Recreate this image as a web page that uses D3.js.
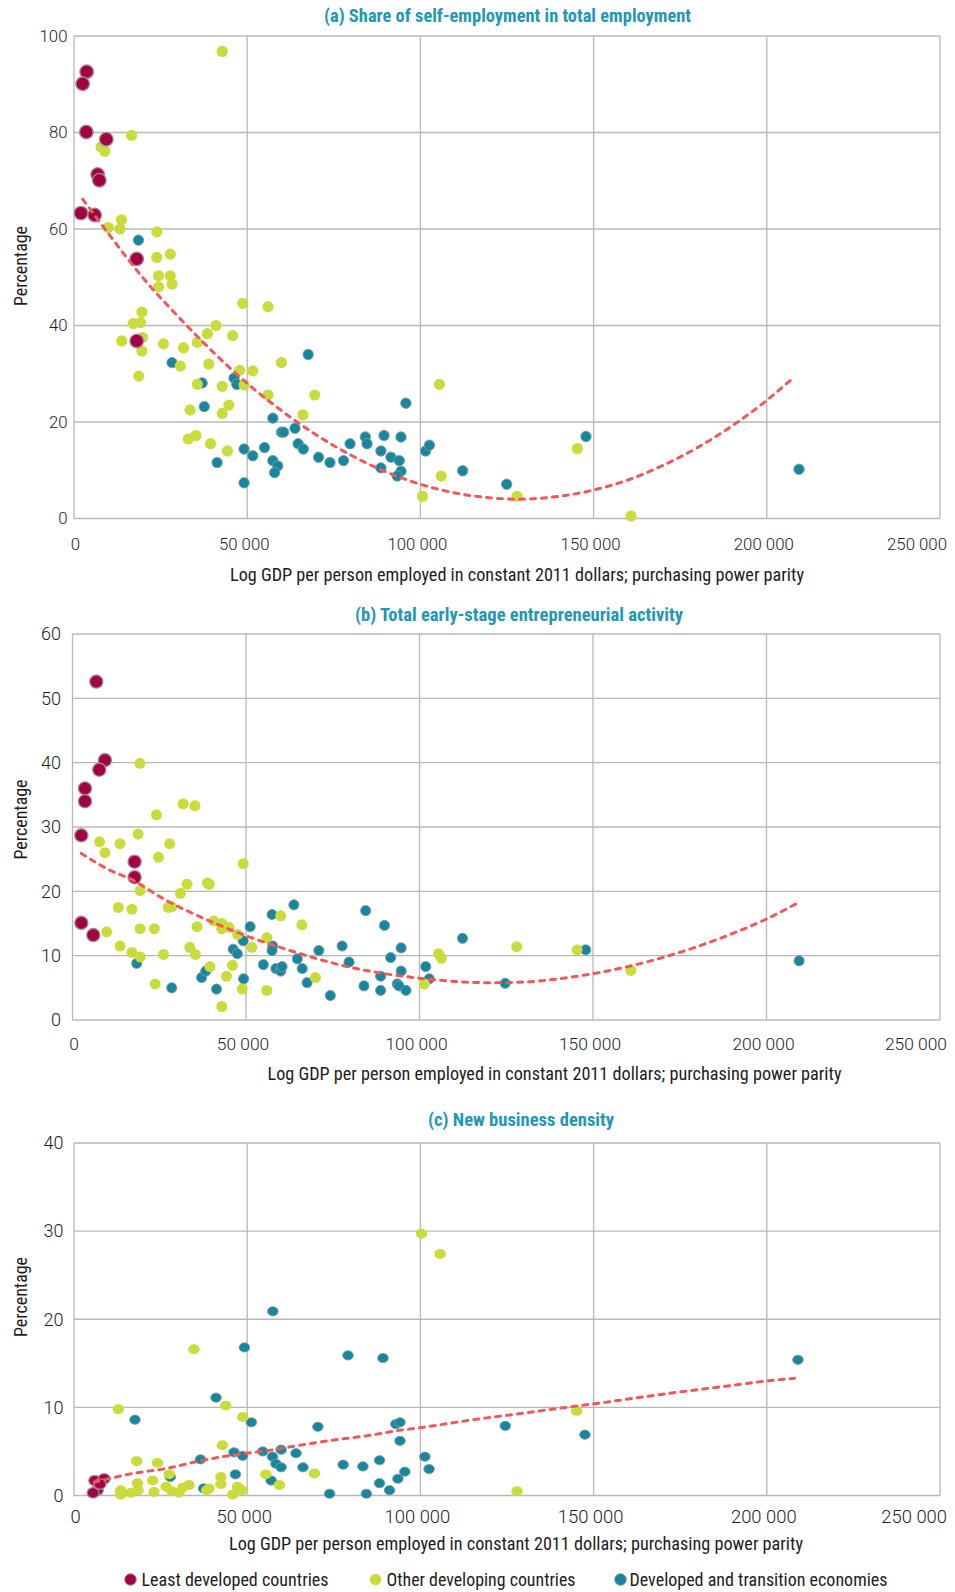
<!DOCTYPE html>
<html><head><meta charset="utf-8">
<script src="https://cdn.jsdelivr.net/npm/d3@7"></script>
<style>body{margin:0;background:#fff}</style>
</head><body><div id="chart"></div>
<script>
// x values in thousands of constant 2011 PPP dollars, y values in percent
const xTicks = [0, 50, 100, 150, 200, 250];
const xTickLabels = ["0", "50 000", "100 000", "150 000", "200 000", "250 000"];
const seriesNames = ["Least developed countries", "Other developing countries", "Developed and transition economies"];
const panelTitles = ["(a) Share of self-employment in total employment", "(b) Total early-stage entrepreneurial activity", "(c) New business density"];
const xAxisTitle = "Log GDP per person employed in constant 2011 dollars; purchasing power parity";
const yAxisTitle = "Percentage";
const aTicksY = [0, 20, 40, 60, 80, 100];
const bTicksY = [0, 10, 20, 30, 40, 50, 60];
const cTicksY = [0, 10, 20, 30, 40];

const aLeast = [[3.65,92.6],[2.5,90.1],[3.56,80.1],[9.33,78.6],[6.83,71.3],[7.31,70.1],[2.02,63.3],[5.96,62.9],[18.1,53.8],[18.1,36.8]];
const aOther = [[42.8,96.8],[16.6,79.4],[7.8,77.0],[8.9,76.1],[9.9,60.3],[13.7,61.9],[13.3,60.0],[23.9,59.4],[23.9,54.1],[27.8,54.8],[24.4,50.3],[27.8,50.3],[24.4,48.0],[28.3,48.6],[48.7,44.6],[56.0,43.9],[19.6,42.8],[17.1,40.4],[19.2,40.6],[41.0,40.0],[38.5,38.3],[45.8,37.9],[13.8,36.8],[19.8,37.5],[25.8,36.2],[31.6,35.4],[35.6,36.5],[19.6,34.7],[30.7,31.6],[38.9,32.0],[59.9,32.3],[18.7,29.5],[47.8,30.7],[51.6,30.6],[35.6,27.8],[42.8,27.4],[49.1,27.7],[56.0,25.6],[69.5,25.6],[33.5,22.5],[44.7,23.5],[42.8,21.8],[66.1,21.5],[33.0,16.5],[35.2,17.2],[39.4,15.5],[44.3,14.0],[105.5,27.8],[100.6,4.6],[106.0,8.8],[145.3,14.5],[127.9,4.6],[160.8,0.5]];
const aDev = [[18.6,57.7],[28.3,32.3],[37.0,28.1],[37.6,23.2],[46.2,29.1],[47.0,27.8],[67.6,34.0],[57.4,20.8],[59.9,17.9],[60.5,17.9],[63.8,18.7],[64.7,15.5],[66.2,14.4],[49.1,14.4],[51.6,13.0],[55.0,14.7],[57.4,12.0],[58.8,10.9],[57.9,9.5],[41.3,11.6],[49.1,7.4],[70.6,12.7],[73.9,11.6],[77.8,12.0],[79.7,15.5],[84.1,16.9],[84.6,15.5],[88.6,14.0],[89.5,17.2],[91.5,12.7],[88.6,10.5],[93.9,12.0],[94.4,16.9],[94.4,9.8],[93.3,8.8],[95.8,23.9],[101.5,14.0],[102.6,15.2],[112.2,9.9],[147.8,17.0],[124.9,7.1],[209.3,10.2]];
const aTrend = [[2.5,66.2],[10,59.0],[20,49.8],[30,41.9],[40,34.6],[50,28.0],[60,22.3],[70,17.3],[80,13.1],[90,9.7],[100,7.1],[110,5.3],[120,4.3],[128,4.0],[140,4.6],[150,5.9],[160,8.0],[170,11.0],[180,14.7],[190,19.2],[200,24.5],[208,29.4]];

const bLeast = [[6.86,52.6],[9.35,40.4],[7.72,38.9],[3.6,36.0],[3.6,34.0],[2.54,28.7],[17.9,24.6],[17.9,22.2],[2.55,15.1],[6.0,13.2]];
const bOther = [[19.4,39.9],[31.9,33.6],[35.3,33.3],[24.2,31.9],[18.9,28.9],[7.8,27.7],[13.7,27.4],[28.0,27.4],[9.35,26.0],[24.8,25.3],[49.2,24.3],[33.0,21.1],[38.9,21.3],[39.4,21.1],[19.5,20.1],[31.1,19.7],[13.2,17.5],[17.1,17.2],[27.6,17.5],[28.6,17.6],[35.9,14.5],[40.7,15.4],[43.0,15.0],[43.0,14.2],[45.1,14.4],[47.6,13.3],[9.85,13.7],[19.5,14.2],[23.6,14.2],[13.7,11.5],[17.1,10.5],[19.5,9.8],[26.2,10.2],[33.8,11.3],[35.4,10.2],[51.7,11.3],[60.0,16.2],[66.1,14.8],[56.0,12.8],[39.6,8.3],[46.1,8.5],[44.4,6.8],[23.8,5.6],[48.9,4.8],[56.0,4.6],[43.0,2.1],[70.0,6.6],[105.5,10.3],[106.3,9.6],[101.4,5.6],[128.0,11.4],[145.4,10.9],[160.9,7.7]];
const bDev = [[18.5,8.8],[28.6,5.0],[37.2,6.6],[38.4,7.6],[41.5,4.8],[46.3,11.0],[47.5,10.3],[49.2,12.3],[49.3,6.4],[51.2,14.5],[55.0,8.6],[57.5,16.4],[57.7,11.5],[57.5,10.8],[58.6,8.0],[60.0,7.6],[60.4,8.3],[63.8,17.9],[64.8,9.5],[66.2,8.0],[67.6,5.8],[71.0,10.8],[74.3,3.8],[77.7,11.5],[79.7,9.0],[84.0,5.3],[84.5,17.0],[88.8,6.8],[88.8,4.6],[89.9,14.7],[91.7,9.7],[94.7,11.2],[94.7,7.6],[93.6,5.6],[94.1,5.3],[96.1,4.6],[101.8,8.3],[102.8,6.4],[112.4,12.7],[124.7,5.7],[147.9,10.9],[209.4,9.2]];
const bTrend = [[2.5,25.9],[10,23.5],[17.5,21.7],[27,18.6],[37,16.0],[49,13.3],[61,11.1],[70,9.6],[80,8.2],[90,7.2],[100,6.5],[110,6.0],[120,5.8],[130,5.9],[140,6.4],[150,7.2],[160,8.3],[170,9.7],[180,11.4],[190,13.4],[200,15.7],[209,18.2]];

const cLeast = [[6.0,1.7],[8.7,1.9],[6.7,0.6],[5.5,0.3],[7.5,1.3]];
const cOther = [[100.3,29.7],[105.7,27.4],[34.6,16.6],[12.8,9.8],[43.8,10.2],[48.7,8.9],[42.8,5.7],[18.1,3.9],[24.1,3.7],[55.4,2.4],[69.4,2.5],[59.3,1.2],[27.5,2.4],[22.7,1.7],[18.3,1.4],[18.5,0.6],[23.1,0.4],[13.5,0.6],[13.5,0.1],[16.4,0.3],[26.6,1.0],[28.2,0.5],[30.3,0.3],[31.4,0.9],[33.2,1.2],[42.4,2.1],[42.4,1.3],[38.3,0.6],[39.0,0.8],[45.8,0.1],[47.2,1.0],[48.4,0.6],[145.1,9.6],[127.9,0.5]];
const cDev = [[57.4,20.9],[49.2,16.8],[79.1,15.9],[89.2,15.6],[41.0,11.1],[17.6,8.6],[51.2,8.3],[70.4,7.8],[92.9,8.1],[94.1,8.3],[94.1,6.2],[36.5,4.1],[46.2,4.9],[48.7,4.5],[46.6,2.4],[54.5,5.0],[57.3,4.4],[59.8,5.2],[58.3,3.6],[59.8,3.2],[64.1,4.8],[66.1,3.2],[56.9,1.7],[77.7,3.5],[83.4,3.3],[88.2,4.0],[88.2,1.4],[91.1,0.6],[93.5,1.9],[95.5,2.7],[101.3,4.4],[102.5,3.0],[73.8,0.2],[84.4,0.2],[27.8,2.1],[37.4,0.8],[209.0,15.4],[124.5,7.9],[147.5,6.9]];
const cTrend = [[5.8,1.5],[17,2.5],[27,3.1],[36,3.9],[46,4.6],[56,5.1],[65,5.7],[75,6.3],[85,6.8],[94,7.4],[100,7.7],[117,8.7],[125,9.1],[144,10.1],[150,10.4],[170,11.5],[188,12.4],[200,13.0],[208,13.3]];

const W = 955, H = 1592;
const COL = {least:'#a5003f', leastStroke:'#a08c9c', other:'#c9dc3b', dev:'#17879f', devStroke:'#7d9aa3',
  trend:'#f2585a', title:'#2297b2', grid:'#b8b8b8', text:'#1c1c1c'};
const condensed = "'Liberation Sans Narrow','Roboto Condensed','Arial Narrow',Roboto,'Liberation Sans',sans-serif";
const tickFont = "Roboto,'Liberation Sans',Arial,sans-serif";

const svg = d3.select('#chart').append('svg').attr('width', W).attr('height', H);

const panels = [
  {title:panelTitles[0], tX:324, tY:22, tLen:367, x0:74, x1:940, yB:518.5, yT:36, yTicks:aTicksY,
   least:aLeast, other:aOther, dev:aDev, trend:aTrend, xLabY:544.5, xFs:16.8, yFs:16.8, yLabX:67.5,
   xtX:230, xtY:575, yTitleY:266, rL:6.8, rO:5.6, rD:5.2, ell:1},
  {title:panelTitles[1], tX:355, tY:620.5, tLen:328, x0:72.5, x1:940, yB:1020, yT:634, yTicks:bTicksY,
   least:bLeast, other:bOther, dev:bDev, trend:bTrend, xLabY:1043.7, xFs:17.4, yFs:18, yLabX:61,
   xtX:267.5, xtY:1074, yTitleY:819.5, rL:6.6, rO:5.5, rD:5.1, ell:1},
  {title:panelTitles[2], tX:428, tY:1126, tLen:186, x0:74, x1:940, yB:1495.5, yT:1143, yTicks:cTicksY,
   least:cLeast, other:cOther, dev:cDev, trend:cTrend, xLabY:1516.7, xFs:18.4, yFs:18, yLabX:63.5,
   xtX:229, xtY:1544, yTitleY:1297, rL:6.0, rO:5.7, rD:5.3, ell:0.87}
];

panels.forEach(p => {
  const yMax = p.yTicks[p.yTicks.length - 1];
  const x = d3.scaleLinear().domain([0, 250]).range([p.x0, p.x1]);
  const y = d3.scaleLinear().domain([0, yMax]).range([p.yB, p.yT]);
  const g = svg.append('g');

  // grid
  g.append('g').selectAll('line.h').data(p.yTicks).join('line')
    .attr('x1', p.x0).attr('x2', p.x1).attr('y1', d => y(d)).attr('y2', d => y(d))
    .attr('stroke', COL.grid).attr('stroke-width', 1.3);
  g.append('g').selectAll('line.v').data(xTicks).join('line')
    .attr('x1', d => x(d)).attr('x2', d => x(d)).attr('y1', p.yT).attr('y2', p.yB)
    .attr('stroke', COL.grid).attr('stroke-width', 1.3);

  // y tick labels
  g.append('g').selectAll('text').data(p.yTicks).join('text')
    .attr('x', p.yLabX).attr('y', d => y(d)).attr('dy', '0.35em')
    .attr('text-anchor', 'end').attr('font-family', tickFont).attr('font-weight', 300)
    .attr('font-size', p.yFs).attr('fill', COL.text).text(d => d);

  // x tick labels
  const last = xTicks.length - 1;
  g.append('g').selectAll('text').data(xTicks).join('text')
    .attr('x', (d, i) => i === last ? 947 : (i === 0 ? x(d) + 1.5 : x(d) - 3))
    .attr('y', p.xLabY).attr('dy', '0.35em')
    .attr('text-anchor', (d, i) => i === last ? 'end' : 'middle')
    .attr('font-family', tickFont).attr('font-weight', 300)
    .attr('font-size', p.xFs).attr('fill', COL.text).text((d, i) => xTickLabels[i]);

  // axis titles
  g.append('text').attr('x', p.xtX).attr('y', p.xtY).attr('dy', '0.35em')
    .attr('font-family', condensed).attr('font-size', 18).attr('fill', COL.text)
    .attr('textLength', 574).attr('lengthAdjust', 'spacingAndGlyphs').text(xAxisTitle);
  g.append('text').attr('transform', `translate(20.5,${p.yTitleY}) rotate(-90)`)
    .attr('text-anchor', 'middle').attr('dy', '0.35em')
    .attr('font-family', condensed).attr('font-size', 18).attr('fill', COL.text)
    .attr('textLength', 80).attr('lengthAdjust', 'spacingAndGlyphs').text(yAxisTitle);

  // panel title
  g.append('text').attr('x', p.tX).attr('y', p.tY)
    .attr('font-family', condensed).attr('font-weight', 'bold').attr('font-size', 18.5)
    .attr('fill', COL.title).attr('textLength', p.tLen).attr('lengthAdjust', 'spacingAndGlyphs')
    .text(p.title);

  // points
  const drawPts = (data, r, fill, stroke, sw) => {
    g.append('g').selectAll('ellipse').data(data).join('ellipse')
      .attr('cx', d => x(d[0])).attr('cy', d => y(d[1]))
      .attr('rx', r).attr('ry', r * p.ell)
      .attr('fill', fill).attr('stroke', stroke).attr('stroke-width', sw);
  };
  drawPts(p.dev, p.rD, COL.dev, COL.devStroke, 0.9);
  drawPts(p.other, p.rO, COL.other, 'none', 0);
  drawPts(p.least, p.rL, COL.least, COL.leastStroke, 1.3);

  // trend
  const line = d3.line().x(d => x(d[0])).y(d => y(d[1])).curve(d3.curveMonotoneX);
  g.append('path').attr('d', line(p.trend)).attr('fill', 'none')
    .attr('stroke', COL.trend).attr('stroke-width', 3)
    .attr('stroke-dasharray', '5,6').attr('stroke-linecap', 'round');
});

// legend
const legend = [
  {name:seriesNames[0], cx:130.5, tx:141.5, len:187, fill:COL.least, stroke:COL.leastStroke},
  {name:seriesNames[1], cx:375.5, tx:386.5, len:189, fill:COL.other, stroke:'none'},
  {name:seriesNames[2], cx:620.5, tx:629.5, len:258, fill:COL.dev, stroke:COL.devStroke}
];
const lg = svg.append('g');
lg.selectAll('circle').data(legend).join('circle')
  .attr('cx', d => d.cx).attr('cy', 1579.5).attr('r', 5.8)
  .attr('fill', d => d.fill).attr('stroke', d => d.stroke).attr('stroke-width', 1);
lg.selectAll('text').data(legend).join('text')
  .attr('x', d => d.tx).attr('y', 1579.5).attr('dy', '0.35em')
  .attr('font-family', condensed).attr('font-size', 18).attr('fill', COL.text)
  .attr('textLength', d => d.len).attr('lengthAdjust', 'spacingAndGlyphs')
  .text(d => d.name);
</script>
</body></html>
